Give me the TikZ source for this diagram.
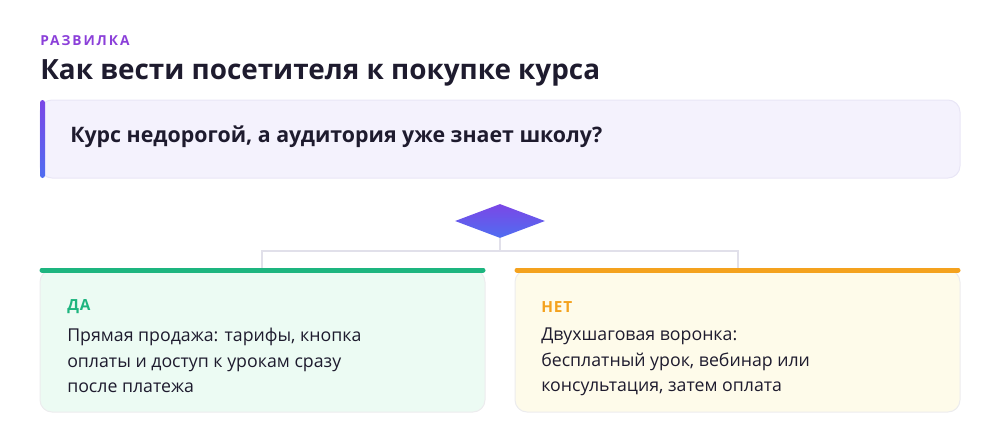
\documentclass[tikz,border=0pt]{standalone}
\usepackage{fontspec}
\setmainfont{Open Sans}
\usetikzlibrary{shapes.geometric}
\definecolor{ink}{HTML}{1E1B2E}
\definecolor{kicker}{HTML}{8B3FD9}
\definecolor{qfill}{HTML}{F4F2FD}
\definecolor{qline}{HTML}{E9E6F6}
\definecolor{wire}{HTML}{E1E0EA}
\definecolor{yesc}{HTML}{1DB57F}
\definecolor{yesfill}{HTML}{ECFBF3}
\definecolor{noc}{HTML}{F4A21E}
\definecolor{nofill}{HTML}{FEFBEA}
\definecolor{cardline}{HTML}{ECECEE}
\definecolor{violet}{HTML}{7B47E6}
\definecolor{blueish}{HTML}{4F6DF1}
\tikzset{
  card/.style={draw=cardline,line width=0.75pt,rounded corners=9pt},
  tag/.style={anchor=west,inner sep=0pt,font=\bfseries\fontsize{11.5}{13}\selectfont\addfontfeature{LetterSpace=6}},
  body/.style={anchor=north west,inner sep=0pt,align=left,text=ink,font=\fontsize{13.3}{19}\selectfont},
  wireline/.style={draw=wire,line width=1.5pt}
}
\begin{document}
\begin{tikzpicture}[x=0.75pt,y=-0.75pt]
\useasboundingbox (0,0) rectangle (1000,446);

% header
\node[anchor=west,inner sep=0pt,text=kicker,font=\bfseries\fontsize{10.3}{12}\selectfont\addfontfeature{LetterSpace=14}] (kick) at (40,41) {РАЗВИЛКА};
\node[anchor=base west,inner sep=0pt,text=ink,font=\bfseries\fontsize{20.9}{24}\selectfont] (title) at (40,79) {Как вести посетителя к покупке курса};

% question
\draw[card,draw=qline,fill=qfill] (40,100) rectangle (960,178);
\shade[top color=violet,bottom color=blueish,rounded corners=2pt] (40,100) rectangle (45,178);
\node[anchor=west,inner sep=0pt,text=ink,font=\bfseries\fontsize{16}{18}\selectfont] (quest) at (70,137) {Курс недорогой, а аудитория уже знает школу?};

% decision
\node[diamond,minimum width=67.5pt,minimum height=25.5pt,inner sep=0pt,aspect=2.6,
  top color=violet,bottom color=blueish] (dec) at (500,221) {};
\coordinate (split) at (500,251);
\coordinate (yestop) at (262,268);
\coordinate (notop) at (738,268);
\draw[wireline] (dec.south) -- (split) -| (yestop);
\draw[wireline] (split) -| (notop);

% yes card
\draw[card,fill=yesfill] (40,270) rectangle (485,412);
\draw[yesc,line width=3.75pt,line cap=round] (42,270) -- (483,270);
\node[tag,text=yesc] (yes) at (67,307) {ДА};
\node[body] (yestxt) at (67,328) {Прямая продажа: тарифы, кнопка\\оплаты и доступ к урокам сразу\\после платежа};

% no card
\draw[card,fill=nofill] (515,270) rectangle (960,412);
\draw[noc,line width=3.75pt,line cap=round] (517,270) -- (958,270);
\node[tag,text=noc] (no) at (541,307) {НЕТ};
\node[body] (notxt) at (541,328) {Двухшаговая воронка:\\бесплатный урок, вебинар или\\консультация, затем оплата};
\end{tikzpicture}
\end{document}
